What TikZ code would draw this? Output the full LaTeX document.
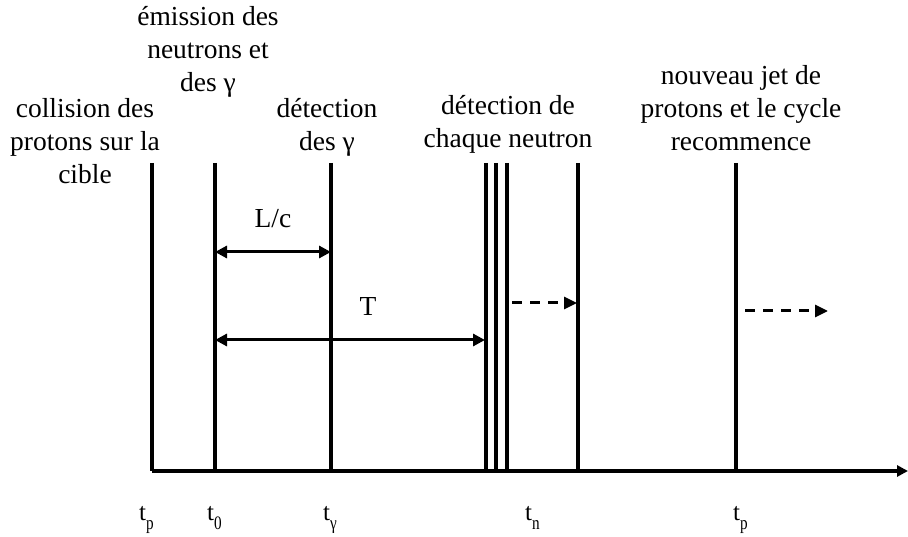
\documentclass[tikz,border=0pt]{standalone}
\usepackage{fontspec}
\setmainfont{Liberation Serif}
\usetikzlibrary{arrows.meta}
\newcommand{\tsub}[1]{\raisebox{-9pt}{\scalebox{0.8}[1]{\fontsize{19}{19}\selectfont #1}}}
\begin{document}
\begin{tikzpicture}[x=1pt,y=-1pt,
  tline/.style={line width=3.4pt},
  dimarrow/.style={line width=3pt,{Triangle[length=12pt,width=12pt]}-{Triangle[length=12pt,width=12pt]}},
  dasharrow/.style={line width=3pt,dash pattern=on 10pt off 8pt,-{Triangle[length=13pt,width=12pt]}},
  lbl/.style={font=\fontsize{27.5}{33}\selectfont,inner sep=0pt,align=center},
  tlbl/.style={font=\fontsize{25}{28}\selectfont,inner sep=0pt,anchor=base west}]
\useasboundingbox (0,0) rectangle (908,537);
% vertical time lines
\foreach \n/\x in {p/152,z/215,g/331,a/486,b/496,c/507,n/578,q/736}{
  \coordinate (\n T) at (\x,163);
  \coordinate (\n B) at (\x,471);
  \draw[tline] (\n T) -- (\n B);
}
\coordinate (axE) at (908,471);
\draw[line width=3.4pt,-{Triangle[length=11pt,width=11pt]}] (pB) -- (axE);
% dimension arrows
\coordinate (lc1) at (215,252);
\coordinate (lc2) at (331,252);
\draw[dimarrow] (lc1) -- (lc2);
\coordinate (T1) at (215,340);
\coordinate (T2) at (485,340);
\draw[dimarrow] (T1) -- (T2);
\node[lbl] (lcL) at (273,219) {L/c};
\node[lbl] (TL) at (368,306) {T};
% dashed arrows
\coordinate (d1a) at (512,303);
\coordinate (d1b) at (577,303);
\draw[dasharrow] (d1a) -- (d1b);
\coordinate (d2a) at (745,311);
\coordinate (d2b) at (828,311);
\draw[dasharrow] (d2a) -- (d2b);
% top labels
\node[lbl] (coll) at (85,141) {collision des\\protons sur la\\cible};
\node[lbl] (emis) at (208,52) {émission des\\neutrons et\\des γ};
\node[lbl] (detg) at (327,127) {détection\\des γ};
\node[lbl] (detn) at (508,124) {détection de\\chaque neutron};
\node[lbl] (nouv) at (741,108) {nouveau jet de\\protons et le cycle\\recommence};
% bottom labels
\node[tlbl] (l1) at (139,520) {t\tsub{p}};
\node[tlbl] (l2) at (207,520) {t\tsub{0}};
\node[tlbl] (l3) at (323,520) {t\tsub{γ}};
\node[tlbl] (l4) at (525,520) {t\tsub{n}};
\node[tlbl] (l5) at (733,520) {t\tsub{p}};
\end{tikzpicture}
\end{document}
